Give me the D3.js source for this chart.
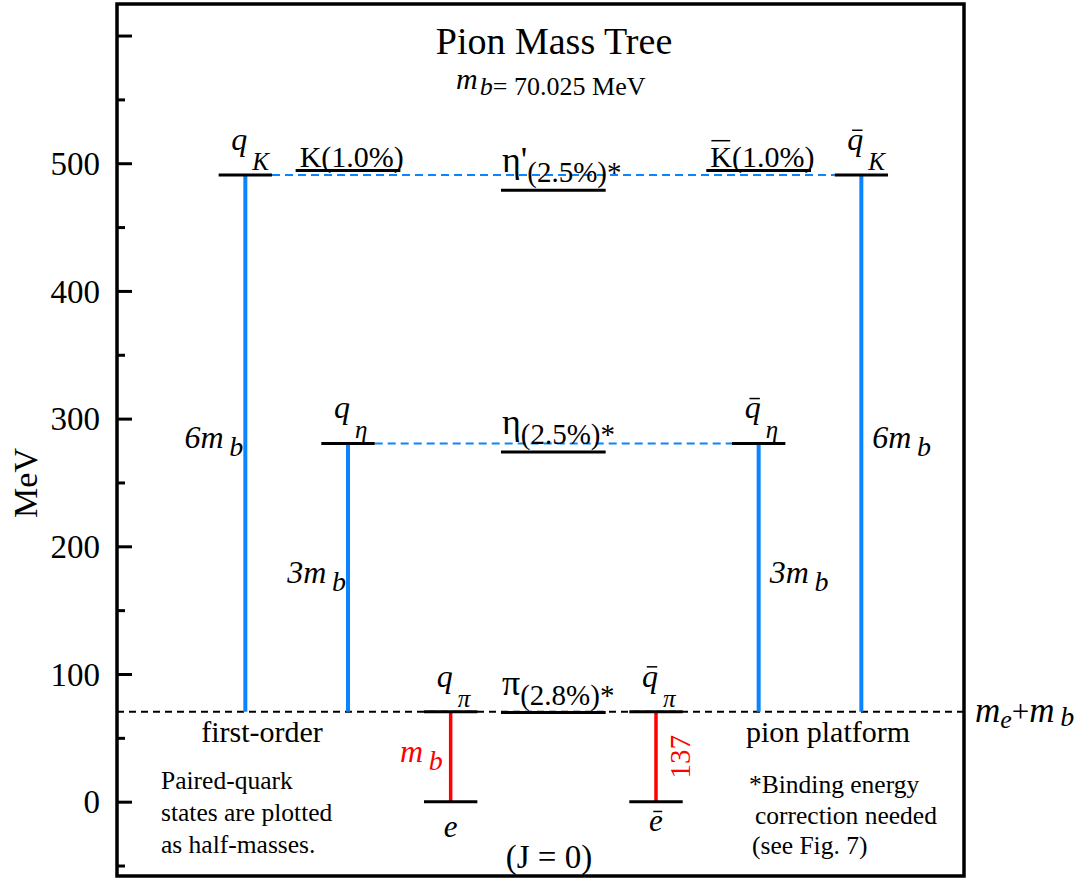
<!DOCTYPE html>
<html>
<head>
<meta charset="utf-8">
<script src="https://cdn.jsdelivr.net/npm/d3@7"></script>
<style>
  body { margin: 0; background: #fff; }
  svg text { font-family: "Liberation Serif", "Times New Roman", serif; }
</style>
</head>
<body>
<div id="chart"></div>
<script>
// values in MeV
var platformMeV = 70.5;   // m_e + m_b

// quark levels (column index, level, bottom of the stem)
var quarkCol  = [0, 1, 2, 4, 5, 6];
var quarkMeV  = [490.7, 280.6, 70.5, 70.5, 280.6, 490.7];
var quarkFrom = [70.5, 70.5, 0, 0, 70.5, 70.5];
var quarkBar  = [false, false, false, true, true, true];
var quarkSub  = ["K", "η", "π", "π", "η", "K"];
var stemKind  = ["blue", "blue", "red", "red", "blue", "blue"];
var stemText  = ["6m", "3m", "m", "137", "3m", "6m"];
var stemSide  = ["left", "left", "left", "right", "right", "right"];

// electron levels
var eCol = [2, 4];
var eMeV = [0, 0];
var eBar = [false, true];

// mesons
var mesonName = ["K", "η'", "K", "η", "π"];
var mesonPct  = ["(1.0%)", "(2.5%)*", "(1.0%)", "(2.5%)*", "(2.8%)*"];
var mesonCol  = [1, 3, 5, 3, 3];
var mesonMeV  = [494.3, 478.9, 494.3, 273.9, 69.8];
var mesonBar  = [false, false, true, false, false];

// dashed blue links between quark pairs
var linkMeV  = [490.7, 280.6];
var linkFrom = [0, 1];
var linkTo   = [6, 5];

var majorTicks = [0, 100, 200, 300, 400, 500, 600];
var tickLabels = ["0", "100", "200", "300", "400", "500", ""];
var minorTicks = [-50, 50, 150, 250, 350, 450, 550];

var BLUE = "#0a84ff", RED = "#ff0000";

var svg = d3.select("#chart").append("svg")
    .attr("width", 1086)
    .attr("height", 882);

var y = d3.scaleLinear().domain([-58.2, 624.7]).range([876, 4]);
var x = d3.scaleLinear().domain([-1.25, 7.0]).range([117, 964]);

var quarkHalf = 0.26, mesonHalf = 0.51;

// label made of tspans: parts = [{t, size, it, dy, color}]
function label(parent, px, py, parts, anchor) {
  var g = parent.append("g");
  var t = g.append("text").attr("x", 0).attr("y", 0);
  parts.forEach(function(p) {
    t.append("tspan")
      .attr("y", p.dy || 0)
      .style("font-size", p.size + "px")
      .style("font-style", p.it ? "italic" : "normal")
      .attr("fill", p.color || "#000")
      .text(p.t);
  });
  var w = t.node().getComputedTextLength();
  var shift = anchor === "end" ? -w : anchor === "middle" ? -w / 2 : 0;
  g.attr("transform", "translate(" + (px + shift) + "," + py + ")");
  return g;
}

// bar over the first glyph of a label
function overbar(g, size, lower, italic) {
  var box = g.select("text").node().getExtentOfChar(0);
  var x0 = box.x + (italic ? box.width * 0.3 : box.width * 0.05);
  var x1 = box.x + (italic ? box.width * 0.95 : box.width * 0.92);
  var yy = -(lower ? 0.62 : 0.86) * size;
  g.append("line")
    .attr("x1", x0).attr("x2", x1)
    .attr("y1", yy).attr("y2", yy)
    .attr("stroke", "#000").attr("stroke-width", 1.5);
}

// frame
svg.append("rect")
    .attr("x", 117).attr("y", 4)
    .attr("width", 847).attr("height", 872)
    .attr("fill", "none")
    .attr("stroke", "#000")
    .attr("stroke-width", 3.5);

// axis, ticks pointing in
var axisG = svg.append("g").attr("transform", "translate(117,0)");
axisG.call(d3.axisLeft(y).tickValues(majorTicks).tickSize(-15).tickPadding(17)
    .tickFormat(function(d, i) { return tickLabels[i]; }));
axisG.select(".domain").remove();
axisG.selectAll("line").attr("stroke-width", 3);
axisG.selectAll("text")
    .style("font-size", "33px")
    .attr("dy", "0.34em");

var minorG = svg.append("g").attr("transform", "translate(117,0)");
minorG.call(d3.axisLeft(y).tickValues(minorTicks).tickSize(-8).tickFormat(""));
minorG.select(".domain").remove();
minorG.selectAll("line").attr("stroke-width", 3);

svg.append("text")
    .attr("transform", "translate(37," + 483 + ") rotate(-90)")
    .attr("text-anchor", "middle")
    .style("font-size", "34px")
    .text("MeV");

// title
svg.append("text")
    .attr("x", 554).attr("y", 54)
    .attr("text-anchor", "middle")
    .style("font-size", "38px")
    .text("Pion Mass Tree");
label(svg, 456, 89, [
  {t: "m", size: 30, it: true},
  {t: "\u200ab", size: 26, it: true, dy: 6},
  {t: "= 70.025 MeV", size: 26, dy: 6}
]);

// platform line m_e + m_b
svg.append("line")
    .attr("x1", 117).attr("x2", 964)
    .attr("y1", y(platformMeV)).attr("y2", y(platformMeV))
    .attr("stroke", "#000")
    .attr("stroke-width", 2)
    .attr("stroke-dasharray", "7,5");

// dashed blue links
svg.selectAll(".link")
    .data(linkMeV)
  .enter().append("line")
    .attr("class", "link")
    .attr("x1", function(d, i) { return x(linkFrom[i] + quarkHalf); })
    .attr("x2", function(d, i) { return x(linkTo[i] - quarkHalf); })
    .attr("y1", function(d) { return y(d); })
    .attr("y2", function(d) { return y(d); })
    .attr("stroke", BLUE)
    .attr("stroke-width", 2)
    .attr("stroke-dasharray", "8,5");

// stems
svg.selectAll(".stem")
    .data(quarkMeV)
  .enter().append("line")
    .attr("class", "stem")
    .attr("x1", function(d, i) { return x(quarkCol[i]); })
    .attr("x2", function(d, i) { return x(quarkCol[i]); })
    .attr("y1", function(d) { return y(d); })
    .attr("y2", function(d, i) { return y(quarkFrom[i]); })
    .attr("stroke", function(d, i) { return stemKind[i] === "red" ? RED : BLUE; })
    .attr("stroke-width", function(d, i) { return stemKind[i] === "red" ? 3.5 : 4; });

// quark levels
svg.selectAll(".qlevel")
    .data(quarkMeV)
  .enter().append("line")
    .attr("class", "qlevel")
    .attr("x1", function(d, i) { return x(quarkCol[i] - quarkHalf); })
    .attr("x2", function(d, i) { return x(quarkCol[i] + quarkHalf); })
    .attr("y1", function(d) { return y(d); })
    .attr("y2", function(d) { return y(d); })
    .attr("stroke", "#000")
    .attr("stroke-width", 3);

// electron levels
svg.selectAll(".elevel")
    .data(eMeV)
  .enter().append("line")
    .attr("class", "elevel")
    .attr("x1", function(d, i) { return x(eCol[i] - quarkHalf); })
    .attr("x2", function(d, i) { return x(eCol[i] + quarkHalf); })
    .attr("y1", function(d) { return y(d); })
    .attr("y2", function(d) { return y(d); })
    .attr("stroke", "#000")
    .attr("stroke-width", 3);

// meson levels
svg.selectAll(".mlevel")
    .data(mesonMeV)
  .enter().append("line")
    .attr("class", "mlevel")
    .attr("x1", function(d, i) { return x(mesonCol[i] - mesonHalf); })
    .attr("x2", function(d, i) { return x(mesonCol[i] + mesonHalf); })
    .attr("y1", function(d) { return y(d); })
    .attr("y2", function(d) { return y(d); })
    .attr("stroke", "#000")
    .attr("stroke-width", 3);

// quark labels
quarkMeV.forEach(function(d, i) {
  var cx = x(quarkCol[i]);
  var g = label(svg, cx - 14, y(d) - 25, [
    {t: "q", size: 32, it: true},
    {t: "\u2009" + quarkSub[i], size: 25, it: true, dy: 20}
  ]);
  if (quarkBar[i]) overbar(g, 32, true, true);
});

// electron labels
eMeV.forEach(function(d, i) {
  var g = label(svg, x(eCol[i]), y(d) + (eBar[i] ? 29 : 35), [
    {t: "e", size: 31, it: true}
  ], "middle");
  if (eBar[i]) overbar(g, 31, true, true);
});

// stem labels
quarkMeV.forEach(function(d, i) {
  var cx = x(quarkCol[i]);
  var mid = y((d + quarkFrom[i]) / 2);
  var col = stemKind[i] === "red" ? RED : "#000";
  if (stemText[i] === "137") {
    svg.append("text")
        .attr("transform", "translate(" + (cx + 34) + "," + mid + ") rotate(-90)")
        .attr("text-anchor", "middle")
        .attr("fill", col)
        .style("font-size", "29px")
        .text(stemText[i]);
    return;
  }
  var parts = [
    {t: stemText[i], size: 32, it: true, color: col},
    {t: "\u2009b", size: 28, it: true, dy: 8, color: col}
  ];
  if (stemSide[i] === "left") {
    label(svg, cx - (stemKind[i] === "red" ? 8 : 2), mid + 5, parts, "end");
  } else {
    label(svg, cx + 11, mid + 5, parts);
  }
});

// meson labels
mesonMeV.forEach(function(d, i) {
  var lx = x(mesonCol[i] - mesonHalf);
  var ly = y(d);
  var g;
  if (mesonName[i] === "K") {
    g = label(svg, lx + 4, ly - 4, [
      {t: mesonName[i] + mesonPct[i], size: 30}
    ]);
    if (mesonBar[i]) overbar(g, 30, false, false);
  } else {
    label(svg, lx + 1, ly - 18, [
      {t: mesonName[i], size: 36},
      {t: mesonPct[i], size: 29, dy: 10}
    ]);
  }
});

// m_e + m_b
label(svg, 975, y(platformMeV) + 10, [
  {t: "m", size: 35, it: true},
  {t: "e", size: 26, it: true, dy: 6},
  {t: "+", size: 31, dy: 0},
  {t: "m", size: 35, it: true, dy: 0},
  {t: "\u2009b", size: 28, it: true, dy: 4}
]);

// annotations
svg.append("text").attr("x", 262).attr("y", 742)
    .attr("text-anchor", "middle").style("font-size", "30px").text("first-order");
svg.append("text").attr("x", 828).attr("y", 742)
    .attr("text-anchor", "middle").style("font-size", "30px").text("pion platform");
svg.append("text").attr("x", 549).attr("y", 868)
    .attr("text-anchor", "middle").style("font-size", "33px").text("(J = 0)");

var notesLeft = ["Paired-quark", "states are plotted", "as half-masses."];
svg.selectAll(".noteL")
    .data(notesLeft)
  .enter().append("text")
    .attr("class", "noteL")
    .attr("x", 161)
    .attr("y", function(d, i) { return 789 + i * 32; })
    .style("font-size", "25.5px")
    .text(function(d) { return d; });

var notesRight = ["*Binding energy", "correction needed", "(see Fig. 7)"];
var notesRightX = [749, 755, 752];
svg.selectAll(".noteR")
    .data(notesRight)
  .enter().append("text")
    .attr("class", "noteR")
    .attr("x", function(d, i) { return notesRightX[i]; })
    .attr("y", function(d, i) { return 793 + i * 30.5; })
    .style("font-size", "25.5px")
    .text(function(d) { return d; });
</script>
</body>
</html>
